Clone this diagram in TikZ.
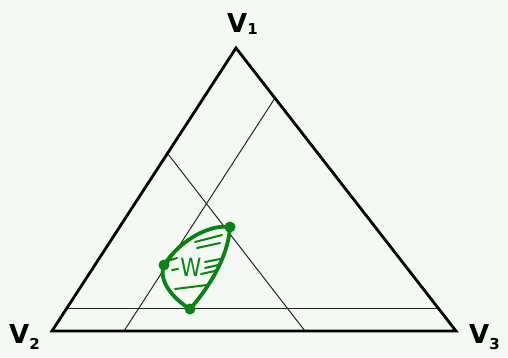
\documentclass[tikz,border=0pt]{standalone}
\usepackage{fontspec}
\setmainfont{DejaVu Sans}
\definecolor{bg}{RGB}{245,249,244}
\definecolor{grn}{RGB}{10,130,20}
\begin{document}
\begin{tikzpicture}[x=1pt,y=-1pt,
  tri/.style={line width=2.8pt,line join=miter},
  thin/.style={line width=1pt,draw=black!85},
  blob/.style={draw=grn,line width=3.8pt,line join=round},
  hatch/.style={draw=grn,line width=2pt,line cap=round},
  dot/.style={circle,fill=grn,inner sep=0pt,minimum size=11pt},
  lab/.style={font=\bfseries\fontsize{26}{26}\selectfont,inner sep=0pt}]
\fill[bg] (0,0) rectangle (508,357);
\useasboundingbox (0,0) rectangle (508,357);
\coordinate (v1) at (236,48);
\coordinate (v2) at (52,331);
\coordinate (v3) at (456,331);
% inner lines
\coordinate (h1) at (67,308);
\coordinate (h2) at (438,308);
\coordinate (a1) at (124,331);
\coordinate (a2) at (275,98);
\coordinate (b1) at (305,331);
\coordinate (b2) at (168,154);
\draw[thin] (h1) -- (h2);
\draw[thin] (a1) -- (a2);
\draw[thin] (b1) -- (b2);
\draw[tri] (v1) -- (v2) -- (v3) -- cycle;
% green region
\node[dot] (p1) at (230,227) {};
\node[dot] (p2) at (164,265) {};
\node[dot] (p3) at (190,309) {};
\draw[blob] (p1.center) .. controls (210,224) and (180,240) .. (p2.center)
  .. controls (158,280) and (172,298) .. (p3.center)
  .. controls (205,292) and (228,260) .. (p1.center);
\draw[hatch] (195,242) -- (222,235);
\draw[hatch] (197,248) -- (220,243);
\draw[hatch] (205,262) -- (220,259);
\draw[hatch] (205,268) -- (218,265);
\draw[hatch] (201,274) -- (215,271);
\draw[hatch] (175,289) -- (207,285);
\draw[hatch] (171,260) -- (177,258);
\draw[hatch] (172,270) -- (178,269);
\node[text=grn,font=\fontsize{25}{25}\selectfont,inner sep=0pt,xscale=0.85] (w) at (191,267) {W};
% labels
\node[lab,anchor=base west] (l1) at (227,32) {V\raisebox{-2pt}{\fontsize{15}{15}\selectfont 1}};
\node[lab,anchor=base west] (l2) at (9,343) {V\raisebox{-6pt}{\fontsize{15}{15}\selectfont 2}};
\node[lab,anchor=base west] (l3) at (469,343) {V\raisebox{-6pt}{\fontsize{15}{15}\selectfont 3}};
\end{tikzpicture}
\end{document}
